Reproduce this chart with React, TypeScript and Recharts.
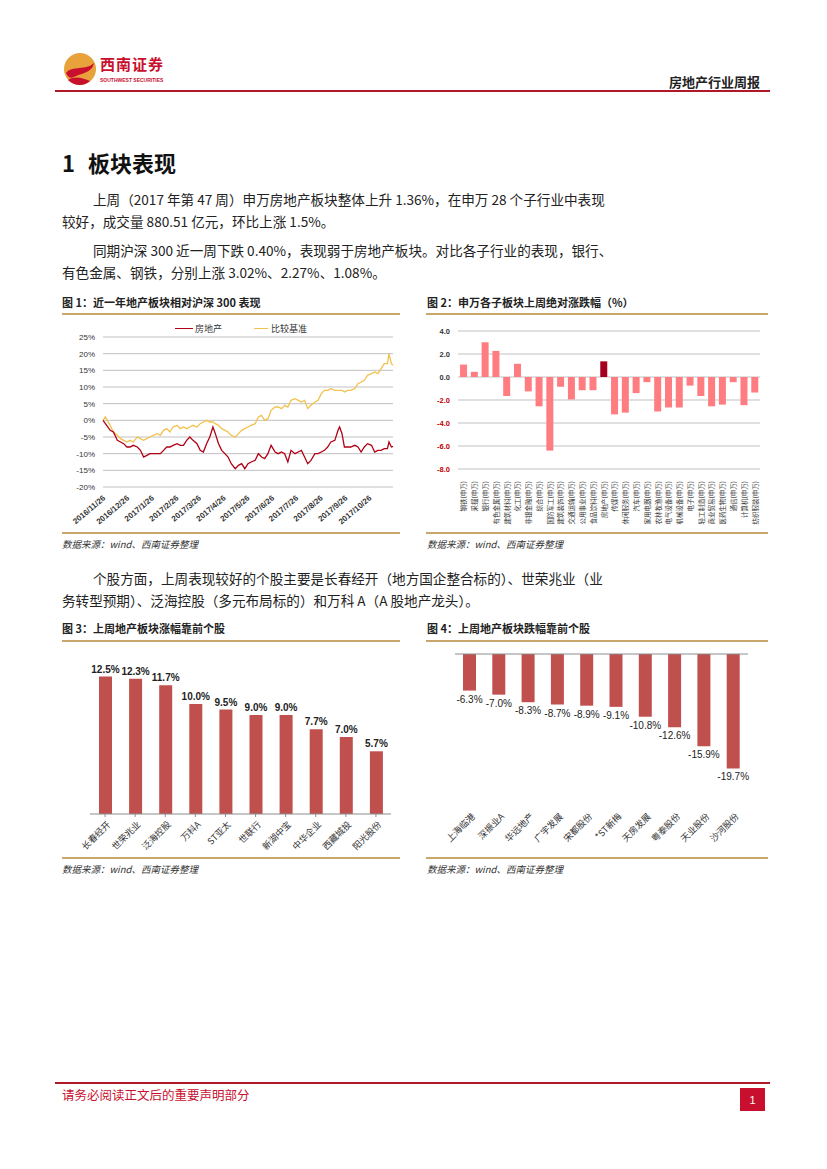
import React from "react";
import {
  LineChart,
  Line,
  BarChart,
  Bar,
  Cell,
  XAxis,
  YAxis,
  CartesianGrid,
  LabelList,
  ReferenceLine,
} from "recharts";

const CJK = '"Noto Sans CJK SC", sans-serif';
const NUM = '"Liberation Sans", Arial, sans-serif';

// ---- figure 1: one year, estate vs benchmark (%), x = days since 2016/11/26
const days = [
  0, 3, 9, 13, 18, 22, 26, 30, 34, 38, 43, 47, 51, 55, 59, 63, 68, 72, 76, 80,
  84, 88, 93, 97, 101, 105, 109, 113, 118, 122, 126, 130, 134, 138, 141, 145,
  149, 153, 157, 161, 166, 170, 174, 178, 182, 186, 191, 195, 199, 203, 207,
  211, 216, 220, 224, 228, 232, 236, 241, 245, 249, 253, 257, 261, 266, 270,
  274, 278, 282, 286, 291, 295, 297, 300, 303, 307, 311, 316, 320, 324, 328,
  332, 337, 341, 345, 349, 353, 357, 359, 362, 364,
];
const estate = [
  0, -1, -3, -3.5, -6, -6.5, -7, -8, -8, -7.5, -8, -9, -11, -10.5, -10, -10,
  -10, -10, -9, -8, -8, -7.5, -7, -7.5, -7.5, -6, -5, -6, -7, -9, -9.5, -7, -5,
  -2, -4, -7, -9, -10, -11, -13, -14.5, -13.5, -13, -14.5, -13, -12.5, -12,
  -10, -11, -11.5, -10, -7.5, -9.5, -10, -9.5, -10, -12.5, -9, -10, -9.5, -9,
  -11, -13, -12, -10, -10, -9.5, -9, -8, -6.5, -6, -3, -2, -4, -8, -8, -8,
  -7.5, -8, -9.5, -8, -7, -7.5, -9.5, -9, -9, -8.5, -8.5, -6.5, -8, -7.8,
];
const benchmark = [
  0, 1, -1.5, -3.5, -4.5, -5.5, -6, -6.5, -6, -6.5, -5, -5.5, -6, -5.5, -5,
  -4.5, -4, -4.5, -3, -2.5, -3.5, -2, -1.5, -2.5, -2, -2.5, -2, -1.5, -2, -1,
  -0.5, 0, -0.5, -0.5, -1, -1.5, -2.5, -3, -3.5, -4.5, -5, -4, -3, -2.5, -2,
  -1.5, -1, 1, 1.5, 0, 0.5, 3, 4, 4, 3.5, 4.5, 4, 6, 6.5, 6, 5.5, 6, 3.5, 4.5,
  5.5, 6, 8, 9, 9, 9.5, 9, 9, 9, 9, 8.5, 9, 9, 9.5, 11, 11.5, 12, 13.5, 14,
  14.5, 14, 15.5, 17, 17, 20, 17, 16.5,
];
const monthTicks = [0, 30, 61, 92, 120, 151, 181, 212, 242, 273, 304, 334];
const monthLabels = [
  "2016/11/26", "2016/12/26", "2017/1/26", "2017/2/26", "2017/3/26",
  "2017/4/26", "2017/5/26", "2017/6/26", "2017/7/26", "2017/8/26",
  "2017/9/26", "2017/10/26",
];
const pctTicks = [-20, -15, -10, -5, 0, 5, 10, 15, 20, 25];

// ---- figure 2: Shenwan sub-sectors, last week (%)
const sectors = [
  "钢铁(申万)", "采掘(申万)", "银行(申万)", "有色金属(申万)", "建筑材料(申万)",
  "化工(申万)", "非银金融(申万)", "综合(申万)", "国防军工(申万)", "建筑装饰(申万)",
  "交通运输(申万)", "公用事业(申万)", "食品饮料(申万)", "房地产(申万)", "传媒(申万)",
  "休闲服务(申万)", "汽车(申万)", "家用电器(申万)", "农林牧渔(申万)", "电气设备(申万)",
  "机械设备(申万)", "电子(申万)", "轻工制造(申万)", "商业贸易(申万)", "医药生物(申万)",
  "通信(申万)", "计算机(申万)", "纺织服装(申万)",
];
const sectorChange = [
  1.08, 0.45, 3.02, 2.27, -1.65, 1.15, -1.25, -2.55, -6.4, -0.85, -1.95, -1.15,
  -1.15, 1.36, -3.25, -3.1, -1.4, -0.45, -3.0, -2.65, -2.65, -0.75, -1.65,
  -2.55, -2.4, -0.45, -2.45, -1.35,
];
const sectorTicks = [-8, -6, -4, -2, 0, 2, 4];

// ---- figure 3: top gainers (%)
const gainers = [
  "长春经开", "世荣兆业", "泛海控股", "万科A", "ST亚太",
  "世联行", "新湖中宝", "中华企业", "西藏城投", "阳光股份",
];
const gainValues = [12.5, 12.3, 11.7, 10.0, 9.5, 9.0, 9.0, 7.7, 7.0, 5.7];

// ---- figure 4: top losers (%)
const losers = [
  "上海临港", "深振业A", "华远地产", "广宇发展", "宋都股份",
  "*ST新梅", "天房发展", "粤泰股份", "天业股份", "沙河股份",
];
const loseValues = [-6.3, -7.0, -8.3, -8.7, -8.9, -9.1, -10.8, -12.6, -15.9, -19.7];

const lineData = days.map((d, i) => ({ day: d, estate: estate[i], bench: benchmark[i] }));
const sectorData = sectors.map((s, i) => ({ name: s, v: sectorChange[i] }));
const gainData = gainers.map((s, i) => ({ name: s, v: gainValues[i] }));
const loseData = losers.map((s, i) => ({ name: s, v: loseValues[i] }));

const RED = "#b0182a";
const GOLD = "#c9a76c";

const Txt = ({ x, y, size = 13, bold = false, color = "#222", children, style = {} }: any) => (
  <div
    style={{
      position: "absolute",
      left: x,
      top: y,
      fontSize: size,
      lineHeight: 1,
      fontWeight: bold ? 700 : 400,
      color,
      fontFamily: CJK,
      whiteSpace: "nowrap",
      ...style,
    }}
  >
    {children}
  </div>
);

const HLine = ({ x, y, w, color, h = 1 }: any) => (
  <div style={{ position: "absolute", left: x, top: y, width: w, height: h, background: color }} />
);

const MonthTick = ({ x, y, payload }: any) => (
  <text
    x={x + 3}
    y={y + 4}
    transform={`rotate(-40 ${x + 3} ${y + 4})`}
    textAnchor="end"
    fontSize={8}
    fontWeight={700}
    fontFamily={NUM}
    fill="#333"
  >
    {monthLabels[monthTicks.indexOf(payload.value)] ?? ""}
  </text>
);

const SectorYTick = ({ x, y, payload }: any) => (
  <text
    x={x}
    y={y}
    dy={3}
    textAnchor="end"
    fontSize={7.5}
    fontWeight={700}
    fontFamily={NUM}
    fill={payload.value < 0 ? "#c00000" : "#333"}
  >
    {payload.value.toFixed(1)}
  </text>
);

const SectorXTick = ({ x, y, payload }: any) => (
  <text
    x={x}
    y={y + 4}
    transform={`rotate(-90 ${x} ${y + 4})`}
    textAnchor="end"
    dominantBaseline="central"
    fontSize={6.5}
    fontFamily={CJK}
    fill="#333"
  >
    {payload.value}
  </text>
);

const StockTick = ({ x, y, payload, dy = 6 }: any) => (
  <text
    x={x + 6}
    y={y + dy}
    transform={`rotate(-45 ${x + 6} ${y + dy})`}
    textAnchor="end"
    fontSize={9}
    fontFamily={CJK}
    fill="#333"
  >
    {payload.value}
  </text>
);

const LoseLabel = ({ x, y, width, height, value }: any) => {
  const bottom = Math.max(y, y + height);
  return (
    <text
      x={x + width / 2}
      y={bottom + 12}
      textAnchor="middle"
      fontSize={10}
      fontFamily={NUM}
      fill="#222"
    >
      {`${Number(value).toFixed(1)}%`}
    </text>
  );
};

const Logo = () => (
  <svg style={{ position: "absolute", left: 62, top: 51 }} width={36} height={36} viewBox="0 0 36 36">
    <circle cx={18} cy={18} r={16} fill="#e9a23b" />
    <path d="M4 22 C10 14 24 20 32 12 C30 22 20 22 12 26 C8 28 6 26 4 22 Z" fill="#c8102e" />
    <path d="M6 29 C14 24 22 28 28 30 A16 16 0 0 1 6 29 Z" fill="#c8102e" />
  </svg>
);

const BODY = 13.6;

export default function App() {
  return (
    <div
      style={{
        position: "absolute",
        left: 0,
        top: 0,
        width: 827,
        height: 1169,
        background: "#fff",
        overflow: "hidden",
      }}
    >
      {/* header */}
      <Logo />
      <Txt x={100} y={56} size={15} bold color="#c8102e" style={{ letterSpacing: 1 }}>
        西南证券
      </Txt>
      <Txt x={100} y={78} size={5} bold color="#c8102e" style={{ fontFamily: NUM }}>
        SOUTHWEST SECURITIES
      </Txt>
      <Txt x={669} y={75} size={13} bold color="#222">
        房地产行业周报
      </Txt>
      <HLine x={55} y={90} w={715} h={2} color={RED} />

      {/* section text */}
      <Txt x={62} y={151} size={22} bold color="#111" style={{ wordSpacing: 8 }}>
        1 板块表现
      </Txt>
      <Txt x={93} y={193} size={BODY}>
        上周（2017 年第 47 周）申万房地产板块整体上升 1.36%，在申万 28 个子行业中表现
      </Txt>
      <Txt x={62} y={215} size={BODY}>
        较好，成交量 880.51 亿元，环比上涨 1.5%。
      </Txt>
      <Txt x={93} y={244} size={BODY}>
        同期沪深 300 近一周下跌 0.40%，表现弱于房地产板块。对比各子行业的表现，银行、
      </Txt>
      <Txt x={62} y={266} size={BODY}>
        有色金属、钢铁，分别上涨 3.02%、2.27%、1.08%。
      </Txt>

      {/* figure 1 + 2 titles */}
      <Txt x={62} y={297} size={11} bold>
        图 1：近一年地产板块相对沪深 300 表现
      </Txt>
      <Txt x={427} y={297} size={11} bold>
        图 2：申万各子板块上周绝对涨跌幅（%）
      </Txt>
      <HLine x={62} y={313} w={338} h={2} color={GOLD} />
      <HLine x={426} y={313} w={342} h={2} color={GOLD} />
      <HLine x={62} y={532} w={338} h={2} color={GOLD} />
      <HLine x={426} y={532} w={342} h={2} color={GOLD} />
      <Txt x={62} y={540} size={9.5} color="#333" style={{ fontStyle: "italic" }}>
        数据来源：wind、西南证券整理
      </Txt>
      <Txt x={427} y={540} size={9.5} color="#333" style={{ fontStyle: "italic" }}>
        数据来源：wind、西南证券整理
      </Txt>

      {/* figure 1 */}
      <div style={{ position: "absolute", left: 62, top: 315 }}>
        <LineChart width={338} height={217} data={lineData} margin={{ top: 22, right: 7, left: 0, bottom: 0 }}>
          <CartesianGrid vertical={false} stroke="#a6a6a6" strokeWidth={0.7} />
          <XAxis
            type="number"
            dataKey="day"
            domain={[0, 364]}
            ticks={monthTicks}
            interval={0}
            tick={<MonthTick />}
            axisLine={false}
            tickLine={false}
            height={45}
          />
          <YAxis
            domain={[-20, 25]}
            ticks={pctTicks}
            interval={0}
            tickFormatter={(v: number) => `${v}%`}
            tick={{ fontSize: 8, fill: "#333", fontFamily: NUM }}
            axisLine={false}
            tickLine={false}
            width={41}
          />
          <Line type="linear" dataKey="bench" stroke="#f2c14e" strokeWidth={1.3} dot={false} isAnimationActive={false} />
          <Line type="linear" dataKey="estate" stroke="#b00014" strokeWidth={1.3} dot={false} isAnimationActive={false} />
        </LineChart>
        <div style={{ position: "absolute", left: 113, top: 7, display: "flex", alignItems: "center", fontSize: 9, fontFamily: CJK, color: "#333" }}>
          <span style={{ display: "inline-block", width: 18, height: 1.5, background: "#b00014", marginRight: 2 }} />
          <span style={{ marginRight: 32 }}>房地产</span>
          <span style={{ display: "inline-block", width: 14, height: 1.5, background: "#f2c14e", marginRight: 3 }} />
          <span>比较基准</span>
        </div>
      </div>

      {/* figure 2 */}
      <div style={{ position: "absolute", left: 426, top: 315 }}>
        <BarChart width={342} height={217} data={sectorData} margin={{ top: 16, right: 8, left: 0, bottom: 0 }} barCategoryGap="19%">
          <CartesianGrid vertical={false} stroke="#a6a6a6" strokeWidth={0.7} />
          <XAxis dataKey="name" interval={0} tick={<SectorXTick />} axisLine={false} tickLine={false} height={63} />
          <YAxis domain={[-8, 4]} ticks={sectorTicks} interval={0} tick={<SectorYTick />} axisLine={false} tickLine={false} width={32} />
          <Bar dataKey="v" isAnimationActive={false}>
            {sectorData.map((d, i) => (
              <Cell key={`c-${i}`} fill={d.name === "房地产(申万)" ? "#a50021" : "#ff7c80"} />
            ))}
          </Bar>
        </BarChart>
      </div>

      {/* text between */}
      <Txt x={93} y={572} size={BODY}>
        个股方面，上周表现较好的个股主要是长春经开（地方国企整合标的）、世荣兆业（业
      </Txt>
      <Txt x={62} y={594} size={BODY}>
        务转型预期）、泛海控股（多元布局标的）和万科 A（A 股地产龙头）。
      </Txt>

      {/* figure 3 + 4 titles */}
      <Txt x={62} y={623} size={11} bold>
        图 3：上周地产板块涨幅靠前个股
      </Txt>
      <Txt x={427} y={623} size={11} bold>
        图 4：上周地产板块跌幅靠前个股
      </Txt>
      <HLine x={62} y={640} w={338} h={2} color={GOLD} />
      <HLine x={426} y={640} w={342} h={2} color={GOLD} />
      <HLine x={62} y={857} w={338} h={2} color={GOLD} />
      <HLine x={426} y={857} w={342} h={2} color={GOLD} />
      <Txt x={62} y={865} size={9.5} color="#333" style={{ fontStyle: "italic" }}>
        数据来源：wind、西南证券整理
      </Txt>
      <Txt x={427} y={865} size={9.5} color="#333" style={{ fontStyle: "italic" }}>
        数据来源：wind、西南证券整理
      </Txt>

      {/* figure 3 */}
      <div style={{ position: "absolute", left: 62, top: 642 }}>
        <BarChart width={338} height={215} data={gainData} margin={{ top: 18, right: 9, left: 28, bottom: 0 }}>
          <XAxis
            dataKey="name"
            interval={0}
            tick={<StockTick />}
            axisLine={{ stroke: "#8c8c8c" }}
            tickLine={{ stroke: "#8c8c8c" }}
            tickSize={3}
            height={43}
          />
          <YAxis hide domain={[0, 14]} />
          <Bar dataKey="v" fill="#c0504d" barSize={13} isAnimationActive={false}>
            <LabelList
              dataKey="v"
              position="top"
              offset={4}
              formatter={(v: any) => `${Number(v).toFixed(1)}%`}
              style={{ fontSize: 10, fontWeight: 700, fontFamily: NUM, fill: "#222" }}
            />
          </Bar>
        </BarChart>
      </div>

      {/* figure 4 */}
      <div style={{ position: "absolute", left: 426, top: 642 }}>
        <BarChart width={342} height={215} data={loseData} margin={{ top: 12, right: 20, left: 29, bottom: 0 }}>
          <XAxis dataKey="name" interval={0} tick={<StockTick dy={4} />} axisLine={false} tickLine={false} height={52} />
          <YAxis hide domain={[-26, 0]} />
          <ReferenceLine y={0} stroke="#8c8c8c" />
          <Bar dataKey="v" fill="#c0504d" barSize={13} isAnimationActive={false}>
            <LabelList dataKey="v" content={<LoseLabel />} />
          </Bar>
        </BarChart>
      </div>

      {/* footer */}
      <HLine x={55} y={1082} w={715} h={2} color={RED} />
      <Txt x={62} y={1089} size={12.5} color="#c8102e">
        请务必阅读正文后的重要声明部分
      </Txt>
      <div
        style={{
          position: "absolute",
          left: 740,
          top: 1088,
          width: 25,
          height: 23,
          background: "#c8102e",
          color: "#fff",
          fontFamily: NUM,
          fontSize: 11,
          display: "flex",
          alignItems: "center",
          justifyContent: "center",
        }}
      >
        1
      </div>
    </div>
  );
}
